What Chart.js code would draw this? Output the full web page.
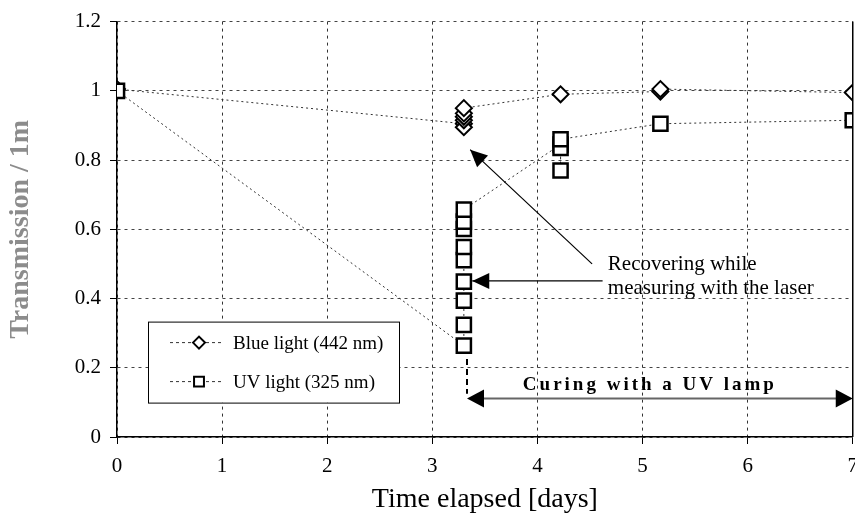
<!DOCTYPE html>
<html>
<head>
<meta charset="utf-8">
<script src="https://cdn.jsdelivr.net/npm/chart.js@4.4.0/dist/chart.umd.min.js"></script>
<style>
  html, body { margin: 0; padding: 0; background: #fff; overflow: hidden; }
  #wrap { width: 868px; height: 525px; }
</style>
</head>
<body>
<div id="wrap"><canvas id="chart"></canvas></div>
<script>
// time elapsed in days, transmission over 1 m
const blueDays   = [0, 3.3, 3.3, 3.3, 3.3, 3.3, 3.3, 4.22, 5.17, 5.17, 7.0];
const blueValues = [1.005, 0.905, 0.895, 0.915, 0.925, 0.935, 0.95, 0.99, 0.998, 1.005, 0.995];

const uvDays   = [0, 3.3, 3.3, 3.3, 3.3, 3.3, 3.3, 3.3, 3.3, 3.3, 4.22, 4.22, 4.22, 4.22, 5.17, 7.0];
const uvValues = [1.0, 0.264, 0.324, 0.394, 0.449, 0.511, 0.549, 0.601, 0.622, 0.657, 0.845, 0.77, 0.835, 0.86, 0.905, 0.915];

const seriesNames = ['Blue light (442 nm)', 'UV light (325 nm)'];
const xTicks = [0, 1, 2, 3, 4, 5, 6, 7];
const yTicks = [0, 0.2, 0.4, 0.6, 0.8, 1, 1.2];

const serif = "'Liberation Serif', 'Times New Roman', serif";

function toPoints(xs, ys) {
  return xs.map((x, i) => ({ x: x, y: ys[i] }));
}

function arrowHead(ctx, x1, y1, x2, y2, len, half) {
  const a = Math.atan2(y2 - y1, x2 - x1);
  const c = Math.cos(a), s = Math.sin(a);
  ctx.beginPath();
  ctx.moveTo(x2, y2);
  ctx.lineTo(x2 - len * c + half * s, y2 - len * s - half * c);
  ctx.lineTo(x2 - len * c - half * s, y2 - len * s + half * c);
  ctx.closePath();
  ctx.fill();
}

// frame on the right, legend box and the annotations
const extras = {
  id: 'extras',
  afterDatasetsDraw(chart) {
    const ctx = chart.ctx;
    const a = chart.chartArea;
    const xs = chart.scales.x, ys = chart.scales.y;
    const px = v => xs.getPixelForValue(v);
    const py = v => ys.getPixelForValue(v);

    ctx.save();
    // right frame
    ctx.strokeStyle = '#000';
    ctx.lineWidth = 1.5;
    ctx.beginPath();
    ctx.moveTo(a.right, a.top);
    ctx.lineTo(a.right, a.bottom);
    ctx.stroke();

    // legend
    const lx = a.left + 31, ly = a.top + 300, lw = 251, lh = 81;
    ctx.fillStyle = '#fff';
    ctx.fillRect(lx, ly, lw, lh);
    ctx.strokeStyle = '#000';
    ctx.lineWidth = 1;
    ctx.strokeRect(lx + 0.5, ly + 0.5, lw, lh);
    chart.data.datasets.forEach((ds, i) => {
      const yy = ly + 21 + i * 39;
      ctx.strokeStyle = '#333';
      ctx.lineWidth = 1;
      ctx.setLineDash([3, 3]);
      ctx.beginPath();
      ctx.moveTo(lx + 22, yy);
      ctx.lineTo(lx + 74, yy);
      ctx.stroke();
      ctx.setLineDash([]);
      ctx.fillStyle = '#fff';
      ctx.strokeStyle = '#000';
      ctx.lineWidth = 2;
      Chart.helpers.drawPoint(ctx, {
        pointStyle: ds.pointStyle, radius: ds.pointStyle === 'rect' ? 7 : 6, rotation: 0, borderWidth: 2
      }, lx + 51, yy);
      ctx.fillStyle = '#000';
      ctx.font = '19px ' + serif;
      ctx.textAlign = 'left';
      ctx.textBaseline = 'middle';
      ctx.fillText(ds.label, lx + 85, yy + 1);
    });

    // annotation text
    ctx.fillStyle = '#000';
    ctx.font = '21px ' + serif;
    ctx.textAlign = 'left';
    ctx.textBaseline = 'middle';
    ctx.fillText('Recovering while', px(4.67), py(0.497));
    ctx.fillText('measuring with the laser', px(4.67), py(0.43));

    // arrows to the clusters
    ctx.strokeStyle = '#000';
    ctx.lineWidth = 1.2;
    ctx.beginPath();
    ctx.moveTo(px(4.52), py(0.5));
    ctx.lineTo(px(3.36), py(0.83));
    ctx.stroke();
    arrowHead(ctx, px(4.52), py(0.5), px(3.36), py(0.83), 17, 8);
    ctx.beginPath();
    ctx.moveTo(px(4.62), py(0.451));
    ctx.lineTo(px(3.38), py(0.451));
    ctx.stroke();
    arrowHead(ctx, px(4.62), py(0.451), px(3.38), py(0.451), 17, 8);

    // curing label
    ctx.font = 'bold 19px ' + serif;
    ctx.letterSpacing = '3px';
    ctx.textAlign = 'center';
    ctx.fillText('Curing with a UV lamp', px(5.07), py(0.151));
    ctx.letterSpacing = '0px';

    // dashed start marker
    ctx.strokeStyle = '#000';
    ctx.lineWidth = 2;
    ctx.setLineDash([6, 4]);
    ctx.beginPath();
    ctx.moveTo(px(3.33), py(0.225));
    ctx.lineTo(px(3.33), py(0.125));
    ctx.stroke();
    ctx.setLineDash([]);

    // double arrow
    const yA = py(0.111);
    ctx.strokeStyle = '#666';
    ctx.lineWidth = 2;
    ctx.beginPath();
    ctx.moveTo(px(3.33) + 8, yA);
    ctx.lineTo(a.right - 8, yA);
    ctx.stroke();
    ctx.fillStyle = '#000';
    arrowHead(ctx, a.right, yA, px(3.33), yA, 17, 9);
    arrowHead(ctx, px(3.33), yA, a.right, yA, 17, 9);
    ctx.restore();
  }
};

new Chart(document.getElementById('chart'), {
  type: 'scatter',
  data: {
    datasets: [
      {
        label: seriesNames[0],
        data: toPoints(blueDays, blueValues),
        showLine: true,
        borderColor: '#333',
        borderWidth: 1,
        borderDash: [2, 3],
        pointStyle: 'rectRot',
        pointRadius: 8,
        pointBorderWidth: 2,
        pointBorderColor: '#000',
        pointBackgroundColor: '#fff',
        order: 1
      },
      {
        label: seriesNames[1],
        data: toPoints(uvDays, uvValues),
        showLine: true,
        borderColor: '#333',
        borderWidth: 1,
        borderDash: [2, 3],
        pointStyle: 'rect',
        pointRadius: 10,
        pointBorderWidth: 2.5,
        pointBorderColor: '#000',
        pointBackgroundColor: '#fff',
        order: 0
      }
    ]
  },
  options: {
    responsive: true,
    maintainAspectRatio: false,
    devicePixelRatio: 1,
    animation: false,
    layout: { padding: { top: 17, left: 0, right: 0, bottom: 0 } },
    plugins: {
      legend: { display: false },
      tooltip: { enabled: false }
    },
    scales: {
      x: {
        type: 'linear',
        min: 0,
        max: 7,
        afterFit: s => { s.height = 88; },
        afterBuildTicks: s => { s.ticks = xTicks.map(v => ({ value: v })); },
        ticks: {
          color: '#000',
          font: { family: serif, size: 21 },
          padding: 10,
          maxRotation: 0,
          callback: v => String(v)
        },
        grid: { color: '#333', lineWidth: 1, tickLength: 7, tickColor: '#000', tickWidth: 1 },
        border: { display: true, color: '#000', width: 1.5, dash: [3, 4] },
        title: {
          display: true,
          text: 'Time elapsed [days]',
          color: '#000',
          font: { family: serif, size: 28 },
          padding: { top: 0, bottom: 9 }
        }
      },
      y: {
        type: 'linear',
        min: 0,
        max: 1.2,
        afterFit: s => { s.width = 117; },
        afterBuildTicks: s => { s.ticks = yTicks.map(v => ({ value: v })); },
        ticks: {
          color: '#000',
          font: { family: serif, size: 21 },
          padding: 9,
          callback: v => String(Number(v.toFixed(1)))
        },
        grid: { color: '#444', lineWidth: 1, tickLength: 7, tickColor: '#000', tickWidth: 1 },
        border: { display: true, color: '#000', width: 1.5, dash: [3, 4] },
        title: {
          display: true,
          text: 'Transmission / 1m',
          color: '#8c8c8c',
          font: { family: serif, size: 28, weight: 'bold' },
          padding: { top: 4, bottom: 0 }
        }
      }
    }
  },
  plugins: [extras]
});
</script>
</body>
</html>
